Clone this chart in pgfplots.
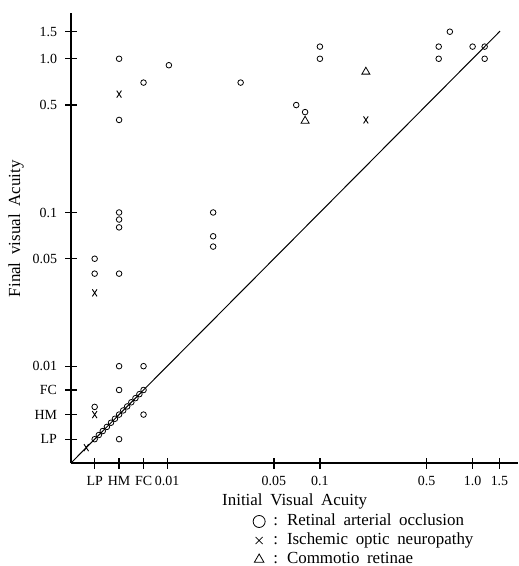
\documentclass[border=0pt]{standalone}
\usepackage{pgfplots}
\pgfplotsset{compat=1.18}
\usepackage{fontspec}
\setmainfont{Liberation Serif}
\newfontfamily\labelfont[WordSpace=1.8]{Liberation Serif}

% positions: u = log10(VA) + 2 ; FC = -0.155, HM = -0.315, LP = -0.475
\begin{document}
\begin{tikzpicture}
\useasboundingbox (-71bp,-103bp) rectangle (448bp,463bp);
\begin{axis}[
    at={(0,0)}, anchor=south west,
    x=152.7bp, y=153.7bp,
    xmin=-0.63, xmax=2.30, ymin=-0.63, ymax=2.30,
    axis x line=bottom, axis y line=left,
    axis line style={draw=black, line width=2.8bp, -},
    tick align=center, major tick length=11bp,
    xtick style={draw=black, line width=1.3bp},
    ytick style={draw=black, line width=1.3bp},
    xtick={-0.475,-0.315,-0.155,0,0.699,1,1.699,2,2.176},
    xticklabels={LP,HM,FC,0.01,0.05,0.1,0.5,1.0,1.5},
    ytick={-0.475,-0.315,-0.155,0,0.699,1,1.699,2,2.176},
    yticklabels={LP,HM,FC,0.01,0.05,0.1,0.5,1.0,1.5},
    tick label style={font=\fontsize{14}{14}\selectfont},
    xticklabel style={yshift=-4bp},
    yticklabel style={xshift=-5bp},
    /pgf/number format/assume math mode=true,
    every axis x label/.style={at={(axis description cs:0.5,0)}, anchor=base, yshift=-42bp},
    every axis y label/.style={at={(axis description cs:0,0.52)}, xshift=-55bp, rotate=90, anchor=center},
    label style={font=\labelfont\fontsize{17}{17}\selectfont},
    xlabel={Initial Visual Acuity},
    ylabel={Final visual Acuity},
    legend style={draw=none, fill=none, at={(axis description cs:0.40,-0.105)}, anchor=north west,
        font=\labelfont\fontsize{17}{17}\selectfont, row sep=1bp,
        nodes={inner sep=0.5bp, text height=12.5bp, text depth=4.5bp},
        cells={anchor=west}},
    legend image code/.code={\draw[#1] plot coordinates {(0bp,0bp)};},
    clip=false,
]
\addplot[black, line width=1bp, forget plot] coordinates {(-0.63,-0.63) (2.18,2.18)};

% retinal arterial occlusion
\addplot[black, only marks, mark=o, mark size=2.8bp, mark options={line width=0.8bp},
    legend image post style={mark size=6bp}] coordinates {
    (-0.315,2.0) (0.011,1.958) (-0.155,1.845) (0.481,1.845) (-0.315,1.602)
    (-0.315,1.0) (-0.315,0.954) (-0.315,0.903)
    (0.301,1.0) (0.301,0.845) (0.301,0.778)
    (-0.475,0.699) (-0.475,0.602) (-0.315,0.602)
    (-0.315,0) (-0.155,0) (-0.315,-0.155) (-0.475,-0.265) (-0.155,-0.315) (-0.315,-0.475)
    (-0.475,-0.475) (-0.448,-0.448) (-0.422,-0.422) (-0.395,-0.395) (-0.368,-0.368)
    (-0.342,-0.342) (-0.315,-0.315) (-0.288,-0.288) (-0.262,-0.262) (-0.235,-0.235)
    (-0.208,-0.208) (-0.182,-0.182) (-0.155,-0.155)
    (1.0,2.079) (1.0,2.0) (0.845,1.699) (0.903,1.653)
    (1.851,2.176) (1.778,2.079) (1.778,2.0) (2.0,2.079) (2.079,2.079) (2.079,2.0)
};
\addlegendentry{~: Retinal arterial occlusion}

% ischemic optic neuropathy
\addplot[black, only marks, mark=x, mark size=3.3bp, mark options={line width=0.9bp, yscale=1.5},
    legend image post style={mark size=5bp, mark options={line width=0.7bp}}] coordinates {
    (-0.315,1.77) (-0.475,0.477) (-0.475,-0.315) (-0.53,-0.53) (1.301,1.602)
};
\addlegendentry{~: Ischemic optic neuropathy}

% commotio retinae
\addplot[black, only marks, mark=triangle, mark size=4.6bp, mark options={line width=0.8bp},
    legend image post style={mark size=5.5bp}] coordinates {
    (0.903,1.596) (1.301,1.915)
};
\addlegendentry{~: Commotio retinae}
\end{axis}
\end{tikzpicture}
\end{document}
